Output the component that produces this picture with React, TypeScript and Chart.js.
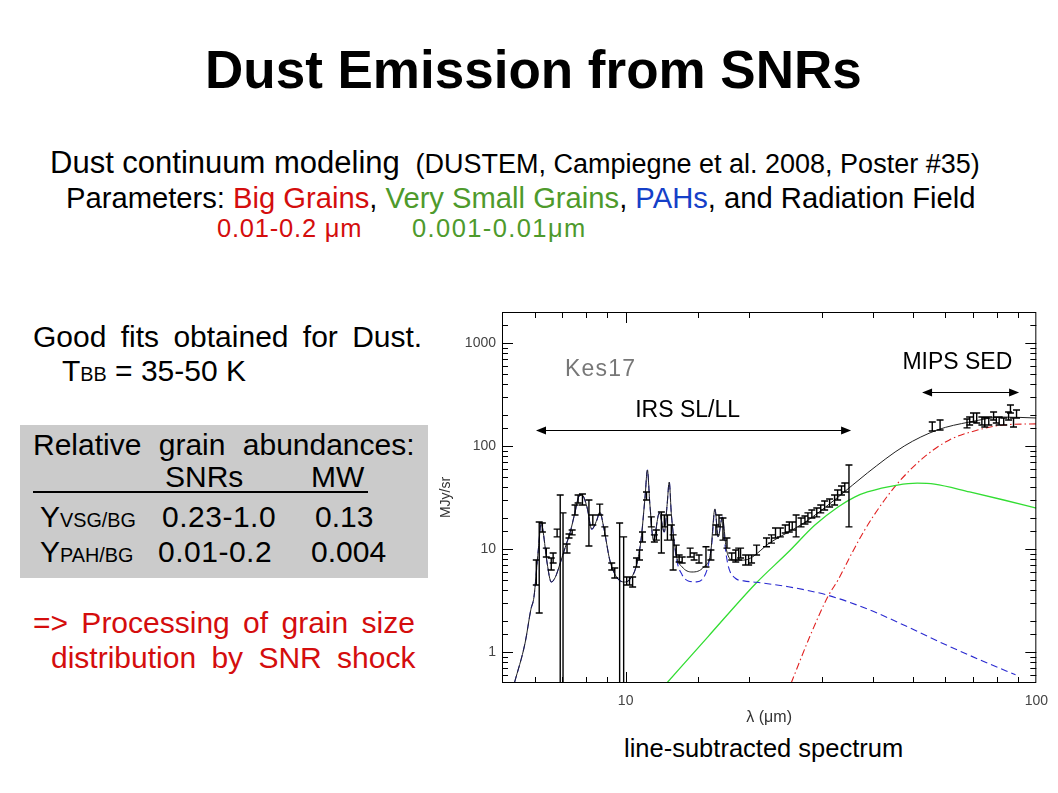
import React, { useEffect, useRef } from "react";
import { Chart, registerables } from "chart.js";

Chart.register(...registerables);

// ---------- model curves ----------
const totalLambda = [5.36, 5.69, 5.88, 5.98, 6.13, 6.23, 6.30, 6.44, 6.59, 6.74, 6.93, 7.13, 7.33, 7.53, 7.70, 7.83, 8.05, 8.27, 8.51, 8.65, 8.85, 9.15, 9.50, 9.95, 10.2, 10.6, 10.9, 11.15, 11.30, 11.45, 11.69, 12.08, 12.42, 12.62, 12.77, 12.92, 13.28, 13.73, 14.5, 15.5, 16.1, 16.5, 16.8, 17.2, 17.6, 18.3, 19.4, 22.6, 27.4, 32.9, 38.8, 47.7, 57.4, 68.8, 83.3, 100];
const totalFlux = [0.50, 1.22, 2.6, 3.4, 9.9, 17.9, 14.5, 7.3, 4.78, 5.3, 7.3, 10.4, 14.6, 22.8, 32.6, 33.4, 25.6, 15.6, 19.1, 22.8, 16.0, 7.8, 5.35, 4.78, 5.0, 6.7, 12.2, 32, 58.5, 28, 12.2, 22.4, 14.6, 27, 44.7, 22, 8.75, 6.7, 5.98, 6.7, 9.1, 24.5, 13.1, 20.4, 9.8, 7.8, 7.8, 11.7, 18.3, 31.9, 54.8, 100, 143, 171, 191, 187];

const pahLambda = [5.36, 5.69, 5.88, 5.98, 6.13, 6.23, 6.30, 6.44, 6.59, 6.74, 6.93, 7.13, 7.33, 7.53, 7.70, 7.83, 8.05, 8.27, 8.51, 8.65, 8.85, 9.15, 9.50, 9.95, 10.2, 10.6, 10.9, 11.15, 11.30, 11.45, 11.69, 12.08, 12.42, 12.62, 12.77, 12.92, 13.28, 13.73, 14.2, 14.9, 15.5, 15.9, 16.2, 16.5, 16.8, 17.2, 17.5, 17.8, 18.5, 19.4, 20.8, 24.9, 31.1, 38.9, 48.7, 60.9, 76.1, 89.0];
const pahFlux = [0.50, 1.22, 2.6, 3.4, 9.9, 17.9, 14.5, 7.3, 4.78, 5.3, 7.3, 10.4, 14.6, 22.8, 32.6, 33.4, 25.6, 15.6, 19.1, 22.8, 16.0, 7.8, 5.35, 4.78, 5.0, 6.7, 12.2, 32, 58.5, 28, 12.2, 22.4, 14.6, 27, 44.7, 22, 8.3, 5.6, 4.9, 4.8, 5.3, 7.0, 11, 24, 13.1, 20.4, 10, 6.7, 5.2, 4.9, 4.75, 4.3, 3.55, 2.6, 1.75, 1.15, 0.78, 0.6];

const vsgLambda = [12.6, 15.9, 20.8, 24.9, 28.9, 32.9, 36.1, 38.8, 45.9, 51.3, 56.5, 68.8, 83.3, 100];
const vsgFlux = [0.5, 1.42, 4.68, 9.35, 17.1, 25.6, 31.9, 35.8, 41.8, 43.6, 42.7, 35.8, 29.9, 25.0];

const bgLambda = [25.3, 28.1, 31.1, 32.9, 35.5, 38.2, 42.7, 46.7, 53.3, 61.3, 71.6, 83.3, 100];
const bgFlux = [0.5, 1.42, 3.47, 5.0, 9.0, 15.3, 29.9, 46.7, 78, 114, 142, 160, 164];

// ---------- observed spectrum: error-bar extents (MJy/sr) ----------
const obsLambda = [6.06, 6.16, 6.27, 6.41, 6.59, 6.66, 6.81, 6.93, 7.04, 7.20, 7.28, 7.41, 7.53, 7.66, 7.85, 8.14, 8.32, 8.65, 8.90, 9.25, 9.41, 9.67, 9.89, 10.06, 10.22, 10.40, 10.63, 10.81, 10.99, 11.24, 11.55, 11.75, 11.88, 12.22, 12.42, 12.64, 12.92, 13.05, 13.28, 13.50, 13.73, 14.36, 14.68, 15.09, 15.69, 16.13, 16.59, 16.88, 17.26, 17.65, 18.13, 18.54, 18.85, 19.05, 19.60, 19.93, 20.26, 20.84, 22.03, 22.65, 23.17, 23.81, 24.47, 25.03, 25.45, 26.01, 26.74, 27.33, 27.79, 28.41, 29.20, 29.86, 30.52, 31.38, 32.27, 32.82, 33.55, 34.17, 34.98, 55.8, 58.3, 67.8, 68.8, 70.3, 71.6, 73.7, 74.9, 76.6, 78.7, 79.9, 81.2, 83.3, 85.6, 86.5, 88.0, 89.5];
const obsLow = [4.47, 2.39, 14.6, 8.36, 6.25, 7.31, 13.1, 0.3, 0.3, 9.15, 12.8, 13.7, 21.4, 28.0, 26.7, 10.7, 17.1, 21.4, 13.4, 6.25, 5.23, 0.3, 0.3, 4.47, 4.47, 4.27, 6.69, 7.82, 11.7, 29.9, 16.4, 11.7, 12.2, 9.15, 16.4, 12.2, 12.2, 6.25, 8.36, 7.48, 7.31, 8.36, 7.82, 7.31, 6.69, 7.82, 13.7, 16.4, 12.2, 10.2, 7.82, 7.48, 7.82, 8.18, 7.00, 7.00, 7.31, 8.75, 10.5, 11.4, 12.8, 13.1, 14.3, 14.6, 15.3, 13.1, 16.4, 17.5, 18.3, 20.0, 20.5, 22.4, 23.9, 25.6, 26.7, 29.9, 33.4, 35.8, 16.4, 140, 143, 150, 160, 171, 167, 160, 153, 160, 179, 167, 160, 160, 179, 209, 153, 187];
const obsHigh = [7.82, 18.3, 17.9, 10.2, 8.18, 9.15, 15.6, 33.4, 22.4, 11.2, 14.0, 15.3, 26.7, 33.4, 34.2, 29.9, 21.4, 27.3, 16.4, 7.31, 6.54, 17.9, 13.1, 5.35, 5.35, 5.35, 8.18, 9.78, 14.6, 35.8, 20.5, 13.7, 15.3, 22.9, 21.4, 21.4, 17.1, 13.7, 10.9, 8.75, 8.36, 10.2, 9.15, 8.75, 10.5, 9.78, 17.1, 21.4, 20.0, 12.8, 9.15, 9.78, 10.2, 10.2, 8.75, 8.75, 8.75, 10.9, 12.8, 13.7, 16.0, 16.0, 17.1, 18.3, 18.3, 21.4, 20.0, 20.9, 22.4, 23.9, 25.0, 26.7, 29.2, 30.6, 33.4, 37.4, 40.9, 43.7, 65.4, 171, 179, 183, 191, 209, 209, 191, 187, 191, 214, 191, 191, 187, 214, 250, 187, 224];

// ---------- axis tick labels ----------
const xTickLabels = [10, 100];
const yTickLabels = [1, 10, 100, 1000];

// ---------- annotations inside the plot (data coordinates) ----------
const annotationTexts = [
  { text: "Kes17", x: 7.12, y: 478, color: "#777777", size: 23, spacing: 1.2 },
  { text: "IRS SL/LL", x: 10.55, y: 190, color: "#000", size: 23, spacing: 0 },
  { text: "MIPS SED", x: 47.2, y: 555, color: "#000", size: 23, spacing: 0 },
];
const annotationArrows = [
  { x1: 6.05, x2: 35.4, y: 143 },
  { x1: 52.7, x2: 90.8, y: 334 },
];

const FONT = '"Liberation Sans", Arial, Helvetica, sans-serif';

const toXY = (xs: number[], ys: number[]) => xs.map((x, i) => ({ x, y: ys[i] }));
const isPow10 = (v: number) => Math.abs(Math.log10(v) - Math.round(Math.log10(v))) < 1e-6;

const errorBarPlugin = {
  id: "errorBars",
  afterDatasetsDraw(chart: any) {
    const { ctx, chartArea: a, scales } = chart;
    const xs = scales.x, ys = scales.y;
    ctx.save();
    ctx.beginPath();
    ctx.rect(a.left, a.top, a.right - a.left, a.bottom - a.top);
    ctx.clip();
    ctx.strokeStyle = "#000";
    ctx.lineWidth = 1.4;
    ctx.beginPath();
    const cap = 3.5;
    for (let i = 0; i < obsLambda.length; i++) {
      const px = xs.getPixelForValue(obsLambda[i]);
      const pl = ys.getPixelForValue(obsLow[i]);
      const ph = ys.getPixelForValue(obsHigh[i]);
      ctx.moveTo(px, pl);
      ctx.lineTo(px, ph);
      ctx.moveTo(px - cap, pl);
      ctx.lineTo(px + cap, pl);
      ctx.moveTo(px - cap, ph);
      ctx.lineTo(px + cap, ph);
    }
    ctx.stroke();
    ctx.restore();
  },
};

const framePlugin = {
  id: "frameTicks",
  afterDraw(chart: any) {
    const { ctx, chartArea: a, scales } = chart;
    const xs = scales.x, ys = scales.y;
    ctx.save();
    ctx.strokeStyle = "#000";
    ctx.lineWidth = 1;
    ctx.strokeRect(a.left + 0.5, a.top + 0.5, a.right - a.left - 1, a.bottom - a.top - 1);
    ctx.beginPath();
    xs.ticks.forEach((t: any) => {
      const px = Math.round(xs.getPixelForValue(t.value)) + 0.5;
      if (px <= a.left + 1 || px >= a.right - 1) return;
      const len = isPow10(t.value) ? 11 : 6;
      ctx.moveTo(px, a.bottom);
      ctx.lineTo(px, a.bottom - len);
      ctx.moveTo(px, a.top);
      ctx.lineTo(px, a.top + len);
    });
    ys.ticks.forEach((t: any) => {
      const py = Math.round(ys.getPixelForValue(t.value)) + 0.5;
      if (py <= a.top + 1 || py >= a.bottom - 1) return;
      const len = isPow10(t.value) ? 11 : 6;
      ctx.moveTo(a.left, py);
      ctx.lineTo(a.left + len, py);
      ctx.moveTo(a.right, py);
      ctx.lineTo(a.right - len, py);
    });
    ctx.stroke();

    // annotations
    ctx.fillStyle = "#000";
    ctx.lineWidth = 1.2;
    annotationArrows.forEach((ar) => {
      const x1 = xs.getPixelForValue(ar.x1);
      const x2 = xs.getPixelForValue(ar.x2);
      const y = Math.round(ys.getPixelForValue(ar.y)) + 0.5;
      ctx.beginPath();
      ctx.moveTo(x1 + 6, y);
      ctx.lineTo(x2 - 6, y);
      ctx.stroke();
      ctx.beginPath();
      ctx.moveTo(x1, y);
      ctx.lineTo(x1 + 10, y - 4);
      ctx.lineTo(x1 + 10, y + 4);
      ctx.closePath();
      ctx.moveTo(x2, y);
      ctx.lineTo(x2 - 10, y - 4);
      ctx.lineTo(x2 - 10, y + 4);
      ctx.closePath();
      ctx.fill();
    });
    annotationTexts.forEach((t) => {
      ctx.font = `${t.size}px ${FONT}`;
      ctx.fillStyle = t.color;
      ctx.textBaseline = "alphabetic";
      ctx.textAlign = "left";
      const px = xs.getPixelForValue(t.x);
      const py = ys.getPixelForValue(t.y);
      if (t.spacing) {
        let cx = px;
        for (const ch of t.text) {
          ctx.fillText(ch, cx, py);
          cx += ctx.measureText(ch).width + t.spacing;
        }
      } else {
        ctx.fillText(t.text, px, py);
      }
    });
    ctx.restore();
  },
};

export default function App() {
  const ref = useRef<HTMLCanvasElement>(null);

  useEffect(() => {
    if (!ref.current) return;
    const chart = new Chart(ref.current, {
      type: "line",
      data: {
        datasets: [
          {
            label: "Total",
            data: toXY(totalLambda, totalFlux),
            borderColor: "#222222",
            borderWidth: 1,
            pointRadius: 0,
            cubicInterpolationMode: "monotone",
            fill: false,
          },
          {
            label: "PAH",
            data: toXY(pahLambda, pahFlux),
            borderColor: "#2a2ad0",
            borderWidth: 1.1,
            borderDash: [7, 4],
            pointRadius: 0,
            cubicInterpolationMode: "monotone",
            fill: false,
          },
          {
            label: "VSG",
            data: toXY(vsgLambda, vsgFlux),
            borderColor: "#33dd33",
            borderWidth: 1.3,
            pointRadius: 0,
            cubicInterpolationMode: "monotone",
            fill: false,
          },
          {
            label: "BG",
            data: toXY(bgLambda, bgFlux),
            borderColor: "#e02020",
            borderWidth: 1.1,
            borderDash: [7, 3, 1.5, 3],
            pointRadius: 0,
            cubicInterpolationMode: "monotone",
            fill: false,
          },
        ],
      },
      options: {
        animation: false,
        responsive: false,
        maintainAspectRatio: false,
        layout: { padding: { left: 430, top: 312, right: 18, bottom: 0 } },
        plugins: { legend: { display: false }, tooltip: { enabled: false } },
        scales: {
          x: {
            type: "logarithmic",
            min: 5,
            max: 100,
            position: "bottom",
            grid: { display: false, drawTicks: false },
            border: { display: false },
            ticks: {
              autoSkip: false,
              maxRotation: 0,
              padding: 10,
              color: "#444",
              font: { family: FONT, size: 14 },
              callback: (v: any) => (xTickLabels.includes(Number(v)) ? String(v) : ""),
            },
            title: {
              display: true,
              text: "λ (μm)",
              color: "#333",
              font: { family: FONT, size: 16 },
              padding: { top: 0, bottom: 66 },
            },
            afterFit: (s: any) => {
              s.height = 110;
            },
          },
          y: {
            type: "logarithmic",
            min: 0.5,
            max: 2000,
            position: "left",
            grid: { display: false, drawTicks: false },
            border: { display: false },
            ticks: {
              autoSkip: false,
              padding: 6,
              color: "#444",
              font: { family: FONT, size: 14 },
              callback: (v: any) => (yTickLabels.includes(Number(v)) ? String(v) : ""),
            },
            title: {
              display: true,
              text: "MJy/sr",
              color: "#333",
              font: { family: FONT, size: 14 },
              padding: { top: 8, bottom: 0 },
            },
            afterFit: (s: any) => {
              s.width = 72;
            },
          },
        },
      },
      plugins: [errorBarPlugin, framePlugin],
    } as any);
    return () => chart.destroy();
  }, []);

  const abs = (left: number, top: number, size: number, extra: React.CSSProperties = {}): React.CSSProperties => ({
    position: "absolute",
    left,
    top,
    fontSize: size,
    lineHeight: 1,
    whiteSpace: "nowrap",
    ...extra,
  });
  const sub: React.CSSProperties = { fontSize: "0.66em" };
  const RED = "#d40d0d";
  const GREEN = "#4e9a2c";

  return (
    <div
      style={{
        position: "absolute",
        left: 0,
        top: 0,
        width: 1058,
        height: 793,
        background: "#fff",
        overflow: "hidden",
        fontFamily: FONT,
        color: "#000",
      }}
    >
      <div style={abs(205, 43, 53, { fontWeight: "bold" })}>Dust Emission from SNRs</div>

      <div style={abs(50, 147, 31)}>
        Dust continuum modeling{" "}
        <span style={{ fontSize: 27, marginLeft: 7 }}>(DUSTEM, Campiegne et al. 2008, Poster #35)</span>
      </div>
      <div style={abs(66, 184, 29.2)}>
        Parameters: <span style={{ color: RED }}>Big Grains</span>,{" "}
        <span style={{ color: GREEN }}>Very Small Grains</span>,{" "}
        <span style={{ color: "#1540c8" }}>PAHs</span>, and Radiation Field
      </div>
      <div style={abs(217, 216, 25.5, { color: RED, letterSpacing: 0.8 })}>0.01-0.2 μm</div>
      <div style={abs(412, 216, 25.5, { color: GREEN, letterSpacing: 1.4 })}>0.001-0.01μm</div>

      <div style={abs(33, 322, 30, { wordSpacing: 6 })}>Good fits obtained for Dust.</div>
      <div style={abs(62, 356, 30)}>
        T<span style={sub}>BB</span> = 35-50 K
      </div>

      <div style={{ position: "absolute", left: 20, top: 425, width: 408, height: 153, background: "#cbcbcb" }} />
      <div style={abs(33, 430, 30, { wordSpacing: 9 })}>Relative grain abundances:</div>
      <div style={abs(165, 462, 30)}>SNRs</div>
      <div style={abs(311, 462, 30)}>MW</div>
      <div style={{ position: "absolute", left: 33, top: 491, width: 335, height: 2, background: "#000" }} />
      <div style={abs(40, 502, 30)}>
        Y<span style={sub}>VSG/BG</span>
      </div>
      <div style={abs(162, 502, 30, { letterSpacing: 0.5 })}>0.23-1.0</div>
      <div style={abs(315, 502, 30)}>0.13</div>
      <div style={abs(40, 537, 30)}>
        Y<span style={sub}>PAH/BG</span>
      </div>
      <div style={abs(158, 537, 30, { letterSpacing: 0.5 })}>0.01-0.2</div>
      <div style={abs(311, 537, 30)}>0.004</div>

      <div style={abs(33, 608, 30, { color: RED, wordSpacing: 5 })}>=&gt; Processing of grain size</div>
      <div style={abs(51, 643, 30, { color: RED, wordSpacing: 7 })}>distribution by SNR shock</div>

      <div style={abs(624, 736, 25.5)}>line-subtracted spectrum</div>

      <canvas ref={ref} width={1058} height={793} style={{ position: "absolute", left: 0, top: 0, width: 1058, height: 793 }} />
    </div>
  );
}
